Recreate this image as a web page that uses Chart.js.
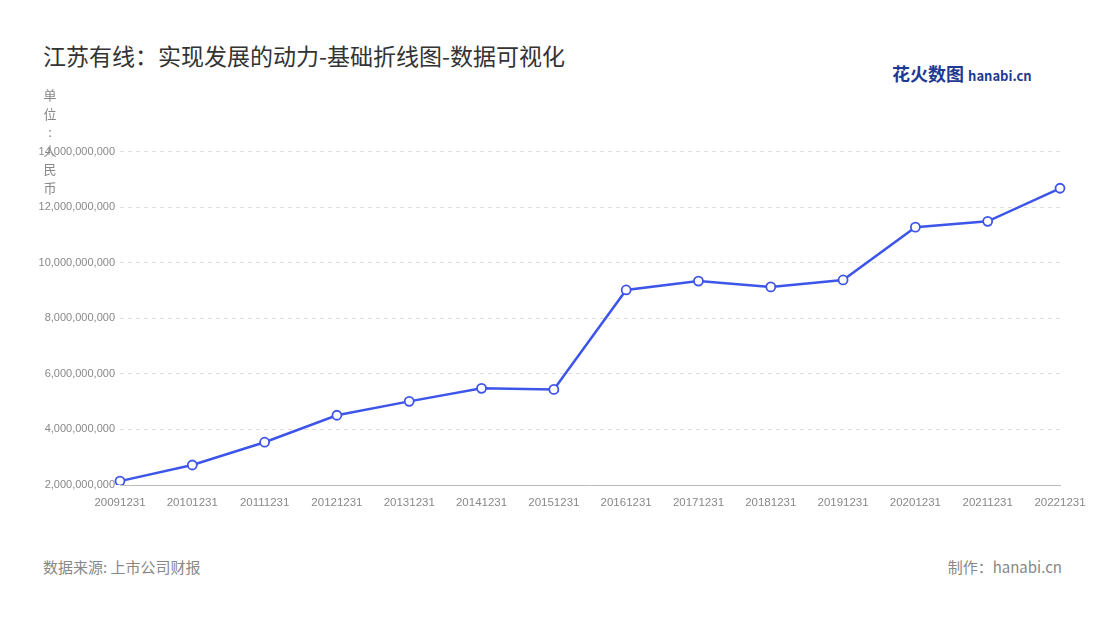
<!DOCTYPE html>
<html><head><meta charset="utf-8">
<script src="https://cdn.jsdelivr.net/npm/chart.js@4"></script>
<style>
body{margin:0;background:#fff;font-family:"Noto Sans CJK SC","Noto Sans",sans-serif;}
#wrap{position:relative;width:1100px;height:620px;}
#title{position:absolute;left:43px;top:38px;font-size:23px;color:#333;}
#logo{position:absolute;left:892px;top:60px;font-size:18px;font-weight:bold;color:#1f3a93;}
#logo span{font-size:13px;color:#1f3a93;}
#unit{position:absolute;left:42px;top:86px;width:16px;font-size:13px;line-height:18.5px;color:#888;text-align:center;}
#src{position:absolute;left:43px;top:556px;font-size:15px;color:#888;}
#by{position:absolute;right:38px;top:556px;font-size:15px;color:#888;}
#box{position:absolute;left:25px;top:140px;width:1075px;height:375px;}
</style></head><body>
<div id="wrap">
<div id="title">江苏有线：实现发展的动力-基础折线图-数据可视化</div>
<div id="logo">花火数图 <span>hanabi.cn</span></div>
<div id="box"><canvas id="c"></canvas></div>
<div id="unit">单<br>位<br>:<br>人<br>民<br>币</div>
<div id="src">数据来源: 上市公司财报</div>
<div id="by">制作：hanabi.cn</div>
</div>
<script>
const categories = ['20091231','20101231','20111231','20121231','20131231','20141231','20151231','20161231','20171231','20181231','20191231','20201231','20211231','20221231'];
const revenue = [2.14e9,2.72e9,3.54e9,4.51e9,5.01e9,5.48e9,5.44e9,9.02e9,9.34e9,9.13e9,9.38e9,11.28e9,11.49e9,12.68e9];
const yTicks = [2e9,4e9,6e9,8e9,10e9,12e9,14e9];

new Chart(document.getElementById('c'), {
  type: 'line',
  data: {
    labels: categories,
    datasets: [{
      data: revenue,
      borderColor: '#3d55e8',
      borderWidth: 2.5,
      pointRadius: 4.5,
      pointBorderWidth: 1.8,
      pointBackgroundColor: '#fff',
      pointBorderColor: '#3d55e8',
      tension: 0
    }]
  },
  options: {
    responsive: true,
    maintainAspectRatio: false,
    animation: false,
    layout: { padding: { top: 7, right: 40 } },
    plugins: { legend: { display: false }, tooltip: { enabled: false } },
    scales: {
      x: {
        offset: false,
        grid: { display: false },
        border: { color: '#bbb' },
        ticks: { color: '#888', font: { size: 11.5 }, maxRotation: 0, autoSkip: false },
        afterFit: s => { s.height = 30; }
      },
      y: {
        min: 2e9, max: 14e9,
        afterBuildTicks: s => { s.ticks = yTicks.map(v => ({ value: v })); },
        grid: { color: '#ddd', drawTicks: false },
        border: { display: false, dash: [4, 4] },
        ticks: { color: '#888', font: { size: 11 }, padding: 5,
          callback: v => v.toLocaleString('en-US') },
        afterFit: s => { s.width = 95; }
      }
    }
  }
});
</script>
</body></html>
